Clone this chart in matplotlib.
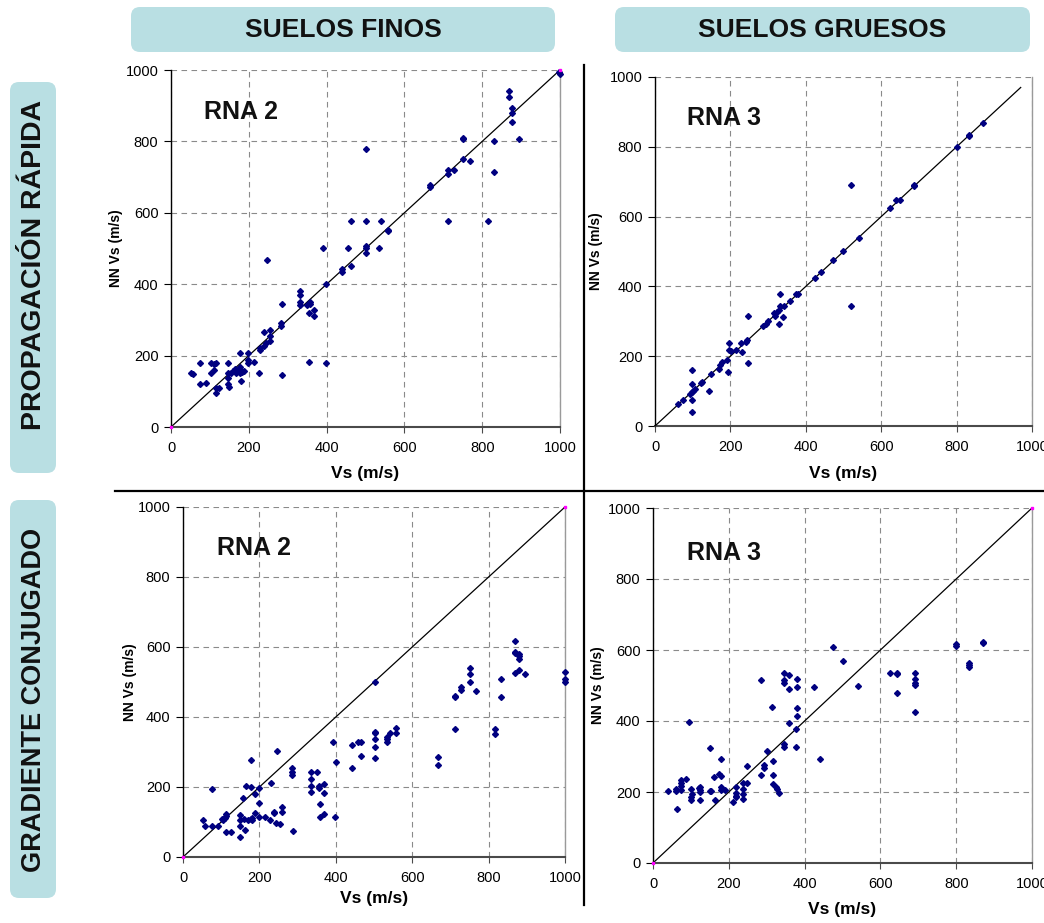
import numpy as np
import matplotlib
matplotlib.use("Agg")
import matplotlib.pyplot as plt
from matplotlib.patches import FancyBboxPatch

# ---------------- data ----------------
col_titles = ["SUELOS FINOS", "SUELOS GRUESOS"]
row_titles = ["PROPAGACIÓN RÁPIDA", "GRADIENTE CONJUGADO"]
panel_labels = ["RNA 2", "RNA 3", "RNA 2", "RNA 3"]
tick_values = [0, 200, 400, 600, 800, 1000]
x_label = "Vs (m/s)"
y_label = "NN Vs (m/s)"

# Panel 1: suelos finos, propagación rápida (RNA 2)
vs_pr_finos = [998, 1000, 869, 869, 877, 877, 877, 831, 895, 750, 750, 500, 750, 769, 727, 712, 712, 831,
               667, 667, 464, 500, 539, 712, 814, 557, 557, 391, 454, 500, 500, 500, 535, 464, 440, 440,
               398, 247, 332, 332, 332, 332, 349, 358, 358, 356, 367, 367, 286, 284, 284, 255, 255, 255,
               238, 244, 238, 229, 229, 177, 199, 199, 199, 214, 356, 398, 286, 226, 75, 104, 110, 115,
               147, 52, 57, 75, 89, 102, 110, 115, 124, 115, 147, 147, 147, 149, 155, 160, 164, 168,
               177, 177, 177, 188, 179, 182]
nn_pr_finos = [995, 990, 942, 923, 894, 880, 853, 802, 806, 810, 806, 780, 750, 744, 721, 719, 710, 713,
               677, 673, 577, 577, 577, 577, 578, 553, 548, 502, 502, 508, 502, 486, 502, 451, 443, 434,
               401, 468, 380, 371, 351, 342, 342, 351, 345, 318, 327, 312, 345, 290, 283, 273, 254, 242,
               267, 236, 228, 222, 216, 206, 206, 187, 179, 181, 181, 180, 145, 150, 178, 180, 176, 180,
               180, 150, 148, 120, 122, 150, 159, 110, 110, 94, 150, 136, 120, 112, 150, 157, 163, 150,
               150, 160, 168, 158, 128, 155]

# Panel 2: suelos gruesos, propagación rápida (RNA 3)
vs_pr_gruesos = [870, 833, 833, 800, 686, 686, 640, 649, 624, 519, 540, 498, 473, 439, 424, 519, 379, 373,
                 358, 343, 332, 332, 330, 339, 329, 323, 316, 319, 299, 294, 286, 248, 245, 242, 228, 230,
                 214, 197, 195, 201, 192, 194, 177, 173, 169, 248, 148, 124, 121, 142, 106, 100, 97, 93,
                 97, 97, 97, 97, 73, 60]
nn_pr_gruesos = [868, 835, 832, 800, 691, 688, 648, 648, 624, 691, 540, 500, 477, 441, 425, 345, 379, 377,
                 359, 345, 379, 345, 333, 313, 293, 326, 324, 316, 300, 293, 286, 316, 247, 240, 238, 211,
                 218, 238, 218, 214, 188, 154, 182, 175, 164, 180, 149, 126, 123, 101, 106, 100, 96, 92,
                 161, 121, 75, 39, 75, 62]
trend_pr_gruesos = [0, 970]

# Panel 3: suelos finos, gradiente conjugado (RNA 2)
vs_gc_finos = [869, 869, 869, 879, 879, 879, 869, 879, 894, 1000, 1000, 1000, 833, 833, 816, 816, 750, 750,
               750, 768, 728, 728, 712, 712, 712, 668, 668, 502, 502, 502, 502, 502, 502, 535, 535, 535,
               541, 558, 558, 442, 458, 467, 467, 442, 393, 401, 398, 336, 350, 336, 336, 336, 357, 357,
               369, 368, 358, 358, 369, 285, 285, 285, 247, 230, 200, 189, 177, 177, 165, 158, 76, 200,
               189, 200, 214, 228, 237, 237, 244, 254, 258, 258, 288, 53, 57, 77, 92, 103, 106, 110,
               113, 113, 113, 126, 148, 148, 150, 150, 162, 160, 170, 177, 180, 180]
nn_gc_finos = [617, 585, 583, 581, 573, 566, 527, 535, 524, 529, 510, 499, 510, 457, 367, 352, 540, 524,
               499, 475, 485, 476, 461, 457, 365, 287, 264, 501, 357, 353, 336, 313, 284, 344, 337, 330,
               354, 370, 355, 319, 330, 330, 290, 253, 329, 272, 115, 244, 244, 223, 204, 186, 204, 196,
               209, 183, 151, 115, 124, 255, 243, 235, 303, 211, 198, 181, 278, 200, 204, 170, 195, 153,
               126, 115, 115, 106, 130, 125, 97, 93, 143, 128, 73, 105, 88, 90, 90, 110, 105, 112,
               124, 116, 71, 71, 121, 105, 89, 57, 78, 110, 105, 110, 105, 112]

# Panel 4: suelos gruesos, gradiente conjugado (RNA 3)
vs_gc_gruesos = [870, 870, 800, 800, 833, 833, 833, 690, 690, 690, 690, 690, 644, 644, 644, 625, 541, 501,
                 476, 426, 441, 381, 381, 381, 381, 378, 378, 359, 359, 359, 345, 345, 345, 345, 345, 313,
                 285, 300, 317, 293, 293, 285, 317, 317, 324, 326, 333, 248, 248, 238, 238, 238, 238, 218,
                 218, 218, 218, 211, 180, 180, 174, 180, 180, 189, 160, 150, 163, 150, 154, 125, 125, 125,
                 122, 125, 100, 104, 100, 100, 95, 88, 75, 75, 75, 75, 62, 64, 60, 40]
nn_gc_gruesos = [623, 619, 616, 610, 563, 557, 551, 535, 518, 507, 502, 425, 535, 532, 478, 535, 500, 569,
                 609, 497, 293, 518, 495, 437, 413, 377, 328, 529, 491, 393, 535, 515, 506, 336, 327, 439,
                 515, 316, 286, 277, 267, 247, 249, 223, 213, 208, 197, 272, 225, 225, 208, 194, 180, 215,
                 197, 190, 185, 171, 293, 246, 252, 214, 207, 205, 241, 324, 177, 204, 204, 214, 207, 200,
                 210, 177, 209, 193, 185, 178, 396, 238, 233, 225, 218, 207, 208, 151, 203, 204]

identity_line = [0, 1000]
ref_points = [0, 1000]

# ---------------- figure ----------------
W, H = 1044, 923
fig = plt.figure(figsize=(W / 100, H / 100), dpi=100)
fig.patch.set_facecolor("white")

# background overlay in pixel coordinates
bg = fig.add_axes([0, 0, 1, 1], zorder=0)
bg.set_xlim(0, W)
bg.set_ylim(H, 0)
bg.axis("off")

box_color = "#b9dfe3"
font_main = ["Liberation Sans", "DejaVu Sans"]

def rbox(x0, y0, x1, y1):
    p = FancyBboxPatch((x0 + 8, y0 + 8), (x1 - x0) - 16, (y1 - y0) - 16,
                       boxstyle="round,pad=8,rounding_size=9",
                       facecolor=box_color, edgecolor="none")
    bg.add_patch(p)

rbox(131, 7, 555, 52)
rbox(615, 7, 1030, 52)
rbox(10, 82, 56, 473)
rbox(10, 500, 56, 898)

bg.text(343, 30, col_titles[0], ha="center", va="center", fontsize=19,
        fontweight="bold", family=font_main, color="#111111")
bg.text(822, 30, col_titles[1], ha="center", va="center", fontsize=19,
        fontweight="bold", family=font_main, color="#111111")
bg.text(34, 265, row_titles[0], ha="center", va="center", rotation=90, fontsize=20.5,
        fontweight="bold", family=font_main, color="#111111")
bg.text(34, 700, row_titles[1], ha="center", va="center", rotation=90, fontsize=19.5,
        fontweight="bold", family=font_main, color="#111111")

bg.plot([115, W], [491, 491], color="black", lw=1.6)
bg.plot([584, 584], [65, 905], color="black", lw=1.6)

# panel positions in pixels: (left, right, top(1000), bottom(0))
panels = [
    (171, 560, 70, 427),
    (655, 1032, 77, 426),
    (183, 565, 507, 857),
    (653, 1032, 508, 863),
]
ylabel_x = [-0.123, -0.139, -0.120, -0.127]
xlabel_y = [-0.110, -0.115, -0.097, -0.111]
label_pos = [(85, 882), (85, 882), (89, 883), (90, 873)]

xs = [vs_pr_finos, vs_pr_gruesos, vs_gc_finos, vs_gc_gruesos]
ys = [nn_pr_finos, nn_pr_gruesos, nn_gc_finos, nn_gc_gruesos]
lines = [identity_line, trend_pr_gruesos, identity_line, identity_line]

for i, (l, r, t, b) in enumerate(panels):
    ax = fig.add_axes([l / W, 1 - b / H, (r - l) / W, (b - t) / H], zorder=2)
    ax.set_facecolor("none")
    ax.set_xlim(0, 1000)
    ax.set_ylim(0, 1000)
    ax.set_xticks(tick_values)
    ax.set_yticks(tick_values)
    ax.set_xticklabels([str(v) for v in tick_values], family=font_main, fontsize=10.5)
    ax.set_yticklabels([str(v) for v in tick_values], family=font_main, fontsize=10.5)
    ax.grid(True, color="#8a8a8a", linestyle=(0, (5, 4)), linewidth=0.8)
    ax.set_axisbelow(True)
    ax.spines["top"].set_visible(False)
    ax.spines["right"].set_color("#9a9a9a")
    ax.spines["right"].set_linewidth(1.0)
    ax.spines["left"].set_color("black")
    ax.spines["left"].set_linewidth(1.0)
    ax.spines["bottom"].set_color("#4a4a4a")
    ax.spines["bottom"].set_linewidth(1.5)
    ax.tick_params(axis="y", direction="out", length=5, width=0.8, color="black", pad=4)
    ax.tick_params(axis="x", direction="out", length=4, width=0.8, color="#4a4a4a", pad=6)

    ln = lines[i]
    ax.plot(ln, ln, color="black", lw=0.9, zorder=3, clip_on=False)
    ax.plot(xs[i], ys[i], linestyle="none", marker="D", markersize=3.0,
            color="#000080", zorder=4, clip_on=False)
    if i != 1:
        ax.plot(ref_points, ref_points, linestyle="none", marker="s", markersize=2.0,
                color="#ff00ff", zorder=5, clip_on=False)

    ax.text(label_pos[i][0], label_pos[i][1], panel_labels[i], ha="left", va="center",
            fontsize=18, fontweight="bold", family=font_main, color="#111111")

    ax.set_ylabel(y_label, fontsize=10, fontweight="bold", family=font_main)
    ax.yaxis.set_label_coords(ylabel_x[i], 0.5)
    ax.set_xlabel(x_label, fontsize=12.5, fontweight="bold", family=font_main)
    ax.xaxis.set_label_coords(0.5, xlabel_y[i])

fig.savefig("out.png", dpi=100, facecolor="white")
